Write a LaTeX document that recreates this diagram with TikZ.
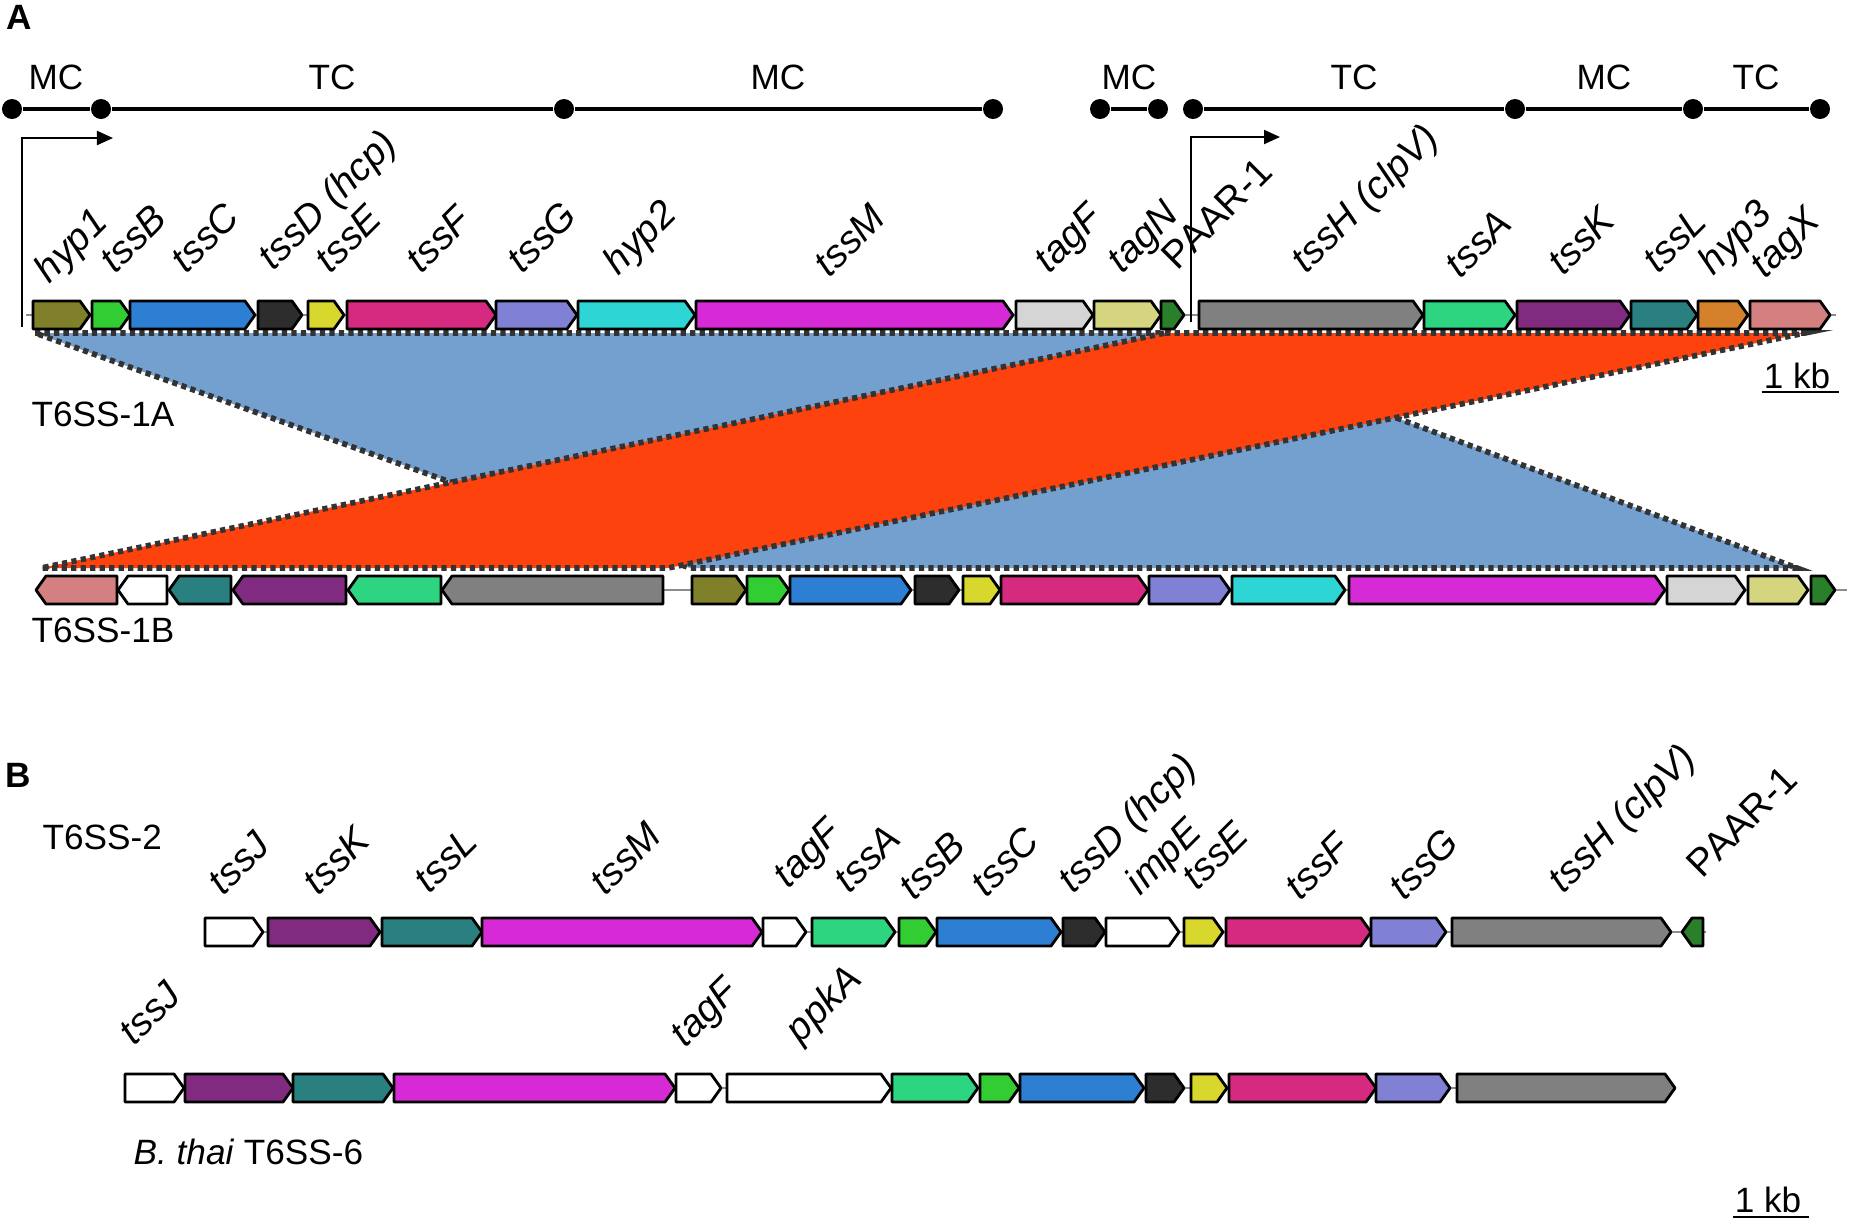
\documentclass[tikz,border=0pt]{standalone}
\usepackage{fontspec}
\setmainfont{Liberation Sans}
\usetikzlibrary{arrows.meta}
\definecolor{hypone}{RGB}{128, 128, 42}
\definecolor{tssb}{RGB}{50, 205, 50}
\definecolor{tssc}{RGB}{45, 127, 212}
\definecolor{tssd}{RGB}{45, 45, 45}
\definecolor{tsse}{RGB}{215, 215, 45}
\definecolor{tssf}{RGB}{213, 42, 127}
\definecolor{tssg}{RGB}{128, 128, 213}
\definecolor{hyptwo}{RGB}{45, 213, 213}
\definecolor{tssm}{RGB}{213, 42, 213}
\definecolor{tagf}{RGB}{213, 213, 213}
\definecolor{tagn}{RGB}{213, 213, 128}
\definecolor{paar}{RGB}{42, 128, 42}
\definecolor{tssh}{RGB}{128, 128, 128}
\definecolor{tssa}{RGB}{45, 213, 128}
\definecolor{tssk}{RGB}{128, 42, 128}
\definecolor{tssl}{RGB}{42, 128, 128}
\definecolor{hypthree}{RGB}{213, 128, 42}
\definecolor{tagx}{RGB}{213, 128, 128}
\definecolor{samedir}{RGB}{116, 160, 208}
\definecolor{inverted}{RGB}{253, 66, 14}

% gene arrows: start, end, row centre, colour
\newcommand{\fwdgene}[4]{%
  \pgfmathsetmacro{\genehead}{min(10,0.5*(#2-#1))}%
  \draw[gene, fill=#4] (#1,#3-14) -- (#2-\genehead,#3-14) -- (#2,#3)
    -- (#2-\genehead,#3+14) -- (#1,#3+14) -- cycle;}
\newcommand{\revgene}[4]{%
  \pgfmathsetmacro{\genehead}{min(10,0.5*(#2-#1))}%
  \draw[gene, fill=#4] (#2,#3-14) -- (#1+\genehead,#3-14) -- (#1,#3)
    -- (#1+\genehead,#3+14) -- (#2,#3+14) -- cycle;}

\begin{document}
\begin{tikzpicture}[
    x=0.01cm, y=-0.01cm,
    gene/.style={draw=black, line width=0.8pt, line join=round},
    backbone/.style={draw=black!45, line width=0.6pt},
    genelabel/.style={rotate=45, anchor=base west, inner sep=0pt, xshift=3.4pt,
                      font=\fontsize{11}{13}\selectfont\itshape},
    tag/.style={inner sep=0pt, font=\fontsize{10}{12}\selectfont},
    panel/.style={inner sep=0pt, font=\fontsize{10}{12}\selectfont\bfseries},
    segdot/.style={circle, fill=black, inner sep=0pt, minimum size=0.2cm},
    segline/.style={line width=1pt},
    promoter/.style={line width=0.6pt, -{Triangle[length=0.16cm, width=0.14cm]}},
    match/.style={draw=black!80, line width=1.6pt, dash pattern=on 1.5pt off 1.2pt},
    scalebar/.style={line width=0.8pt}
]
\useasboundingbox (0,0) rectangle (1854,1226);

% ---------------- Panel A ----------------
\node[panel] (panA) at (19,17) {A};

% MC / TC segments
\foreach \px [count=\i] in {12,101,564,993,1100,1158,1193,1515,1693,1820}
    \node[segdot] (d\i) at (\px,109) {};
\draw[segline] (d1) -- (d2) -- (d3) -- (d4);
\draw[segline] (d5) -- (d6);
\draw[segline] (d7) -- (d8) -- (d9) -- (d10);
\foreach \px/\txt [count=\i] in {56/MC,332/TC,778/MC,1129/MC,1354/TC,1604/MC,1756/TC}
    \node[tag] (seg\i) at (\px,77) {\txt};

% alignment blocks
\coordinate (bTL) at (35,333);   \coordinate (bTR) at (1170,333);
\coordinate (bBR) at (1797,568); \coordinate (bBL) at (690,568);
\draw[match, fill=samedir] (bTL) -- (bTR) -- (bBR) -- (bBL) -- cycle;
\coordinate (rTL) at (1165,333); \coordinate (rTR) at (1805,333);
\coordinate (rBR) at (668,568);  \coordinate (rBL) at (41,568);
\draw[match, fill=inverted] (rTL) -- (rTR) -- (rBR) -- (rBL) -- cycle;

% T6SS-1A
\coordinate (rowAstart) at (26,315); \coordinate (rowAend) at (1836,315);
\draw[backbone] (rowAstart) -- (rowAend);
\foreach \s/\e/\c in {33/90/hypone, 92/130/tssb, 130/255/tssc, 258/302/tssd,
    308/344/tsse, 347/496/tssf, 496/577/tssg, 578/695/hyptwo, 696/1013/tssm,
    1016/1093/tagf, 1094/1161/tagn, 1161/1184/paar, 1199/1423/tssh,
    1424/1515/tssa, 1517/1630/tssk, 1631/1697/tssl, 1698/1748/hypthree,
    1750/1830/tagx}
    {\fwdgene{\s}{\e}{315}{\c}}
\foreach \px/\py/\txt [count=\i] in {41/293/hyp1, 107/283/tssB, 178/283/tssC,
    265/280/tssD (hcp), 322/283/tssE, 413/283/tssF, 514/283/tssG, 610/285/hyp2,
    821/287/tssM, 1041/283/tagF, 1114/283/tagN, 1169/280/{\upshape PAAR-1},
    1298/283/tssH (clpV), 1452/288/tssA, 1555/285/tssK, 1650/283/tssL,
    1705/285/hyp3, 1757/288/tagX}
    \node[genelabel] (la\i) at (\px,\py) {\txt};

% promoters
\coordinate (pone) at (22,327);   \coordinate (ponetip) at (113,138);
\draw[promoter] (pone) |- (ponetip);
\coordinate (ptwo) at (1191,322); \coordinate (ptwotip) at (1280,137);
\draw[promoter] (ptwo) |- (ptwotip);

\node[tag, anchor=west] (nameA) at (31,414) {T6SS-1A};
\node[tag] (kbA) at (1797,376) {1 kb};
\coordinate (kbAl) at (1762,392); \coordinate (kbAr) at (1839,392);
\draw[scalebar] (kbAl) -- (kbAr);

% T6SS-1B
\coordinate (rowBstart) at (36,590); \coordinate (rowBend) at (1847,590);
\draw[backbone] (rowBstart) -- (rowBend);
\foreach \s/\e/\c in {36/117/tagx, 118/167/white, 169/231/tssl, 233/346/tssk,
    348/441/tssa, 442/663/tssh}
    {\revgene{\s}{\e}{590}{\c}}
\foreach \s/\e/\c in {692/746/hypone, 747/789/tssb, 790/911/tssc, 915/959/tssd,
    963/1000/tsse, 1001/1148/tssf, 1149/1230/tssg, 1232/1345/hyptwo,
    1349/1665/tssm, 1667/1745/tagf, 1748/1808/tagn, 1811/1835/paar}
    {\fwdgene{\s}{\e}{590}{\c}}
\node[tag, anchor=west] (nameB) at (31,630) {T6SS-1B};

% ---------------- Panel B ----------------
\node[panel] (panB) at (18,775) {B};
\node[tag, anchor=west] (nameC) at (42,837) {T6SS-2};

% T6SS-2
\coordinate (rowCstart) at (205,932); \coordinate (rowCend) at (1706,932);
\draw[backbone] (rowCstart) -- (rowCend);
\foreach \s/\e/\c in {205/263/white, 268/380/tssk, 382/482/tssl, 482/762/tssm,
    763/806/white, 812/895/tssa, 899/936/tssb, 937/1061/tssc, 1063/1105/tssd,
    1106/1179/white, 1184/1223/tsse, 1226/1371/tssf, 1371/1446/tssg,
    1452/1671/tssh}
    {\fwdgene{\s}{\e}{932}{\c}}
\revgene{1682}{1703}{932}{paar}
\foreach \px/\py/\txt [count=\i] in {215/905/tssJ, 310/905/tssK, 421/903/tssL,
    597/905/tssM, 780/898/tagF, 841/903/tssA, 906/910/tssB, 978/907/tssC,
    1065/903/tssD (hcp), 1132/905/impE, 1189/900/tssE, 1292/910/tssF,
    1396/910/tssG, 1555/903/tssH (clpV), 1694/888/{\upshape PAAR-1}}
    \node[genelabel] (lc\i) at (\px,\py) {\txt};

% B. thai T6SS-6
\coordinate (rowDstart) at (125,1088); \coordinate (rowDend) at (1675,1088);
\draw[backbone] (rowDstart) -- (rowDend);
\foreach \s/\e/\c in {125/184/white, 185/293/tssk, 293/393/tssl, 394/675/tssm,
    676/721/white, 727/891/white, 892/978/tssa, 980/1019/tssb, 1020/1144/tssc,
    1146/1184/tssd, 1191/1227/tsse, 1229/1376/tssf, 1376/1450/tssg,
    1457/1675/tssh}
    {\fwdgene{\s}{\e}{1088}{\c}}
\foreach \px/\py/\txt [count=\i] in {126/1055/tssJ, 677/1057/tagF, 792/1053/ppkA}
    \node[genelabel] (ld\i) at (\px,\py) {\txt};
\node[tag, anchor=west] (nameD) at (133,1152) {\textit{B. thai} T6SS-6};

\node[tag] (kbB) at (1768,1200) {1 kb};
\coordinate (kbBl) at (1733,1217); \coordinate (kbBr) at (1809,1217);
\draw[scalebar] (kbBl) -- (kbBr);

\end{tikzpicture}
\end{document}
